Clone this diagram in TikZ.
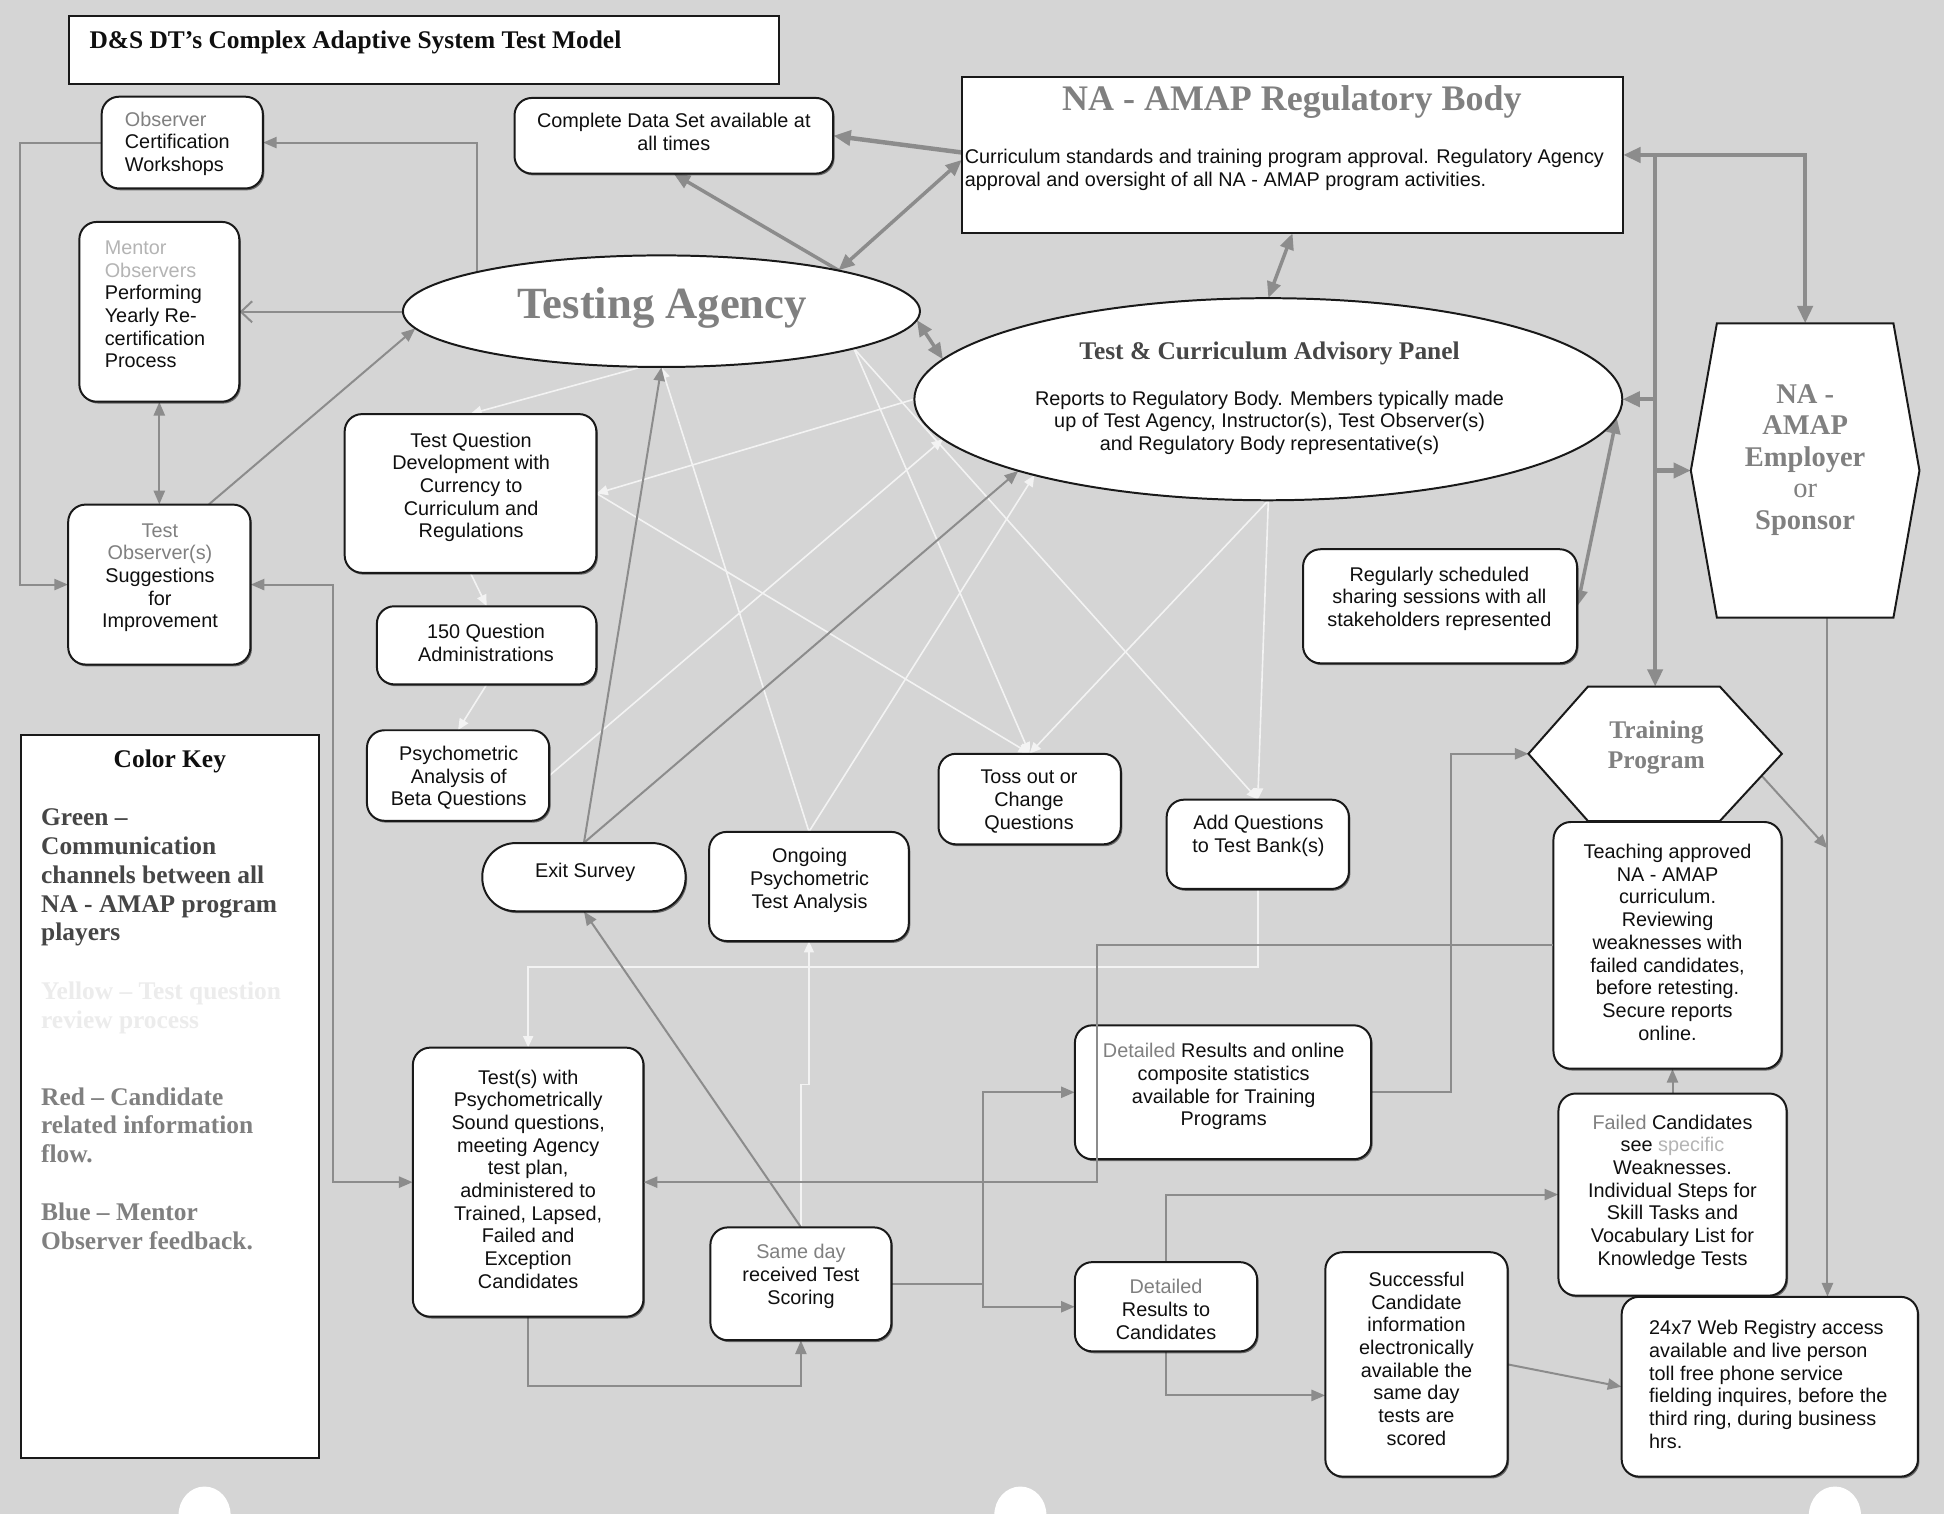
\documentclass[tikz,border=0pt]{standalone}
\usepackage{fontspec}
\setmainfont{Liberation Serif}
\setsansfont{Liberation Sans}
\usetikzlibrary{arrows.meta,calc,shapes.geometric,shadows}
\definecolor{bg}{RGB}{213,213,213}
\definecolor{conn}{RGB}{140,140,140}
\definecolor{edge}{RGB}{25,25,25}
\definecolor{wl}{RGB}{243,243,243}
\definecolor{gtxt}{RGB}{128,128,128}
\definecolor{ltxt}{RGB}{180,180,180}
\definecolor{dtxt}{RGB}{70,70,70}
\definecolor{ytxt}{RGB}{236,236,236}
\definecolor{btxt}{RGB}{15,15,15}
\begin{document}
\begin{tikzpicture}[x=1pt,y=-1pt,
 rbox/.style={draw=edge, line width=1.6, fill=white, rounded corners=14, inner sep=0,
   drop shadow={shadow xshift=1.2pt,shadow yshift=-1.5pt,fill=black,opacity=0.5}},
 sq/.style={draw=edge, line width=1.6, fill=white, inner sep=0},
 ell/.style={ellipse, draw=edge, line width=1.6, fill=white, inner sep=0},
 hexs/.style={draw=edge, line width=1.6, fill=white},
 ghost/.style={draw=none, inner sep=0},
 tx/.style={inner sep=0, align=center, text=btxt, font=\sffamily\fontsize{16}{18.3}\selectfont},
 txl/.style={tx, align=left},
 keyt/.style={inner sep=0, align=left, anchor=west, font=\rmfamily\bfseries\fontsize{20.5}{23.2}\selectfont},
 gline/.style={draw=conn, line width=1.6, >={Triangle[length=11pt,width=9pt]}},
 gmid/.style={draw=conn, line width=2.8, >={Triangle[length=13pt,width=11pt]}},
 gthick/.style={draw=conn, line width=3.6, >={Triangle[length=14pt,width=12pt]}},
 wline/.style={draw=wl, line width=1.3, >={Triangle[length=9pt,width=8pt]}}
]
\useasboundingbox (0,0) rectangle (1568,1221);
\fill[bg] (0,0) rectangle (1568,1221);
% punch holes
\fill[white] (165,1222) ellipse (21 and 23);
\fill[white] (823,1222) ellipse (21 and 23);
\fill[white] (1480,1222) ellipse (21 and 23);

% ---------- node placement (shapes) ----------
\node[sq, minimum width=572, minimum height=55] (title) at (342,40.5) {};
\node[inner sep=0, anchor=west, text=btxt, font=\rmfamily\bfseries\fontsize{20.5}{24}\selectfont] (titlet) at (72,34) {D\&S DT’s Complex Adaptive System Test Model};

\node[ghost, minimum width=130, minimum height=74] (ocw) at (147,115) {};
\node[ghost, minimum width=257, minimum height=61] (cds) at (543.5,109.5) {};
\node[ghost, minimum width=533, minimum height=126] (reg) at (1042.5,125) {};
\node[ghost, minimum width=129, minimum height=145] (mentor) at (128.5,251.5) {};
\node[ghost, ellipse, minimum width=417, minimum height=90] (ta) at (533.5,251) {};
\node[ghost, ellipse, minimum width=571, minimum height=163] (tcap) at (1023,322) {};
\node[ghost, minimum width=184, minimum height=237] (emp) at (1456,379.5) {};
\node[ghost, minimum width=203, minimum height=128] (tqd) at (379.5,398) {};
\node[ghost, minimum width=147, minimum height=129] (to) at (128.5,471.5) {};
\node[ghost, minimum width=221, minimum height=92] (share) at (1161.5,489) {};
\node[ghost, minimum width=177, minimum height=63] (q150) at (392.5,520.5) {};
\node[ghost, minimum width=147, minimum height=73] (psych) at (369.5,625.5) {};
\node[ghost, minimum width=147, minimum height=73] (toss) at (830.5,644.5) {};
\node[ghost, minimum width=204, minimum height=108] (tp) at (1335,608) {};
\node[ghost, minimum width=147, minimum height=72] (addq) at (1014.5,681) {};
\node[ghost, minimum width=164, minimum height=55] (exit) at (471,707.5) {};
\node[ghost, minimum width=161, minimum height=88] (ongoing) at (652.5,715) {};
\node[ghost, minimum width=184, minimum height=199] (teach) at (1345,762.5) {};
\node[ghost, minimum width=239, minimum height=108] (dro) at (986.5,881) {};
\node[ghost, minimum width=186, minimum height=217] (tests) at (426,953.5) {};
\node[ghost, minimum width=184, minimum height=163] (failed) at (1349,963.5) {};
\node[ghost, minimum width=146, minimum height=91] (sd) at (646,1035.5) {};
\node[ghost, minimum width=147, minimum height=72] (drc) at (940.5,1054) {};
\node[ghost, minimum width=147, minimum height=181] (succ) at (1142.5,1100.5) {};
\node[ghost, minimum width=239, minimum height=145] (web) at (1427.5,1118.5) {};
\node[ghost, minimum width=240, minimum height=583] (key) at (137,884.5) {};

% ---------- white connectors ----------
\draw[wline,->] (ta.250) -- (tqd.north);
\draw[wline,->] (tcap.west) -- (tqd.east);
\draw[wline,->] (tqd.east) -- (toss.north);
\draw[wline,->] (tqd.south) -- (q150.north);
\draw[wline,->] (q150.south) -- (psych.north);
\draw[wline,->] (psych.east) -- (tcap.187);
\draw[wline,->] (ongoing.north) -- (ta.south);
\draw[wline,->] (ta.-11) -- (toss.north);
\draw[wline,->] (ta.-11) -- (addq.north);
\draw[wline,->] (ongoing.north) -- (tcap.198);
\draw[wline,->] (tcap.south) -- (toss.north);
\draw[wline,->] (tcap.south) -- (addq.north);
\draw[wline,->] (addq.south) -- ++(0,63) -| (tests.north);
\draw[wline,->] (sd.north) -- ++(0,-115) -| (ongoing.south);

% ---------- gray connectors ----------
\draw[gline,->] (ocw.west) -- ++(-66,0) |- (to.west);
\draw[gline,->] (ta.168.5) |- (ocw.east);
\draw[gline,-{Straight Barb[length=9pt,width=17pt]}] (ta.west |- mentor.east) -- (mentor.east);
\draw[gline,<->] (mentor.south) -- (to.north);
\draw[gline,->] ($(to.north)+(40,0)$) -- (ta.184);
\draw[gline,<->] (to.east) -- ++(66,0) |- (tests.west);

\draw[gthick,->] ($(reg.west)+(0,-2)$) -- (cds.east);
\draw[gmid,<->] (ta.13) -- ($(reg.west)+(0,4)$);
\draw[gmid,->] (ta.13) -- (cds.south);
\draw[gmid,<->] (reg.south) -- (tcap.north);
\draw[gmid,<->] (ta.-2) -- (tcap.173);

\draw[gthick,<->] (reg.east) -| (emp.north);
\draw[gthick,->] (reg.east -| tp.north) -- (tp.north);
\draw[gthick,->] (tcap.east -| tp.north) -- (tcap.east);
\draw[gthick,->] (emp.west -| tp.north) -- (emp.west);
\draw[gmid,<->] (share.east) -- (tcap.-3);
\coordinate (ea) at ($(emp.south)+(18,0)$);
\draw[gline,->] (ea) -- (ea |- web.north);
\draw[gline,->] ($(tp.east)+(-16,18)$) -- ($(ea)+(0,186)$);

\draw[gline,->] (exit.north) -- (ta.south);
\draw[gline,->] (exit.north) -- (tcap.196);
\draw[gline,->] (sd.north) -- (exit.south);
\draw[gline,->] (tests.south) -- ++(0,56) -| (sd.south);
\coordinate (sj) at ($(sd.east)+(74,0)$);
\draw[gline] (sd.east) -- (sj);
\draw[gline,->] (sj) |- (dro.west);
\draw[gline,->] (sj) |- (drc.west);
\draw[gline,->] (dro.east) -- ++(64,0) |- (tp.west);
\draw[gline,->] (drc.north) |- (failed.west);
\draw[gline,->] (drc.south) |- ($(succ.west)+(0,25)$);
\draw[gline,->] (succ.east) -- (web.west);
\draw[gline,->] (failed.north) -- (failed.north |- teach.south);

% ---------- shapes ----------
\node[rbox, minimum width=130, minimum height=74] at (ocw) {};
\node[txl] (ocwt) at (143,116) {\textcolor{gtxt}{Observer}\\Certification\\Workshops};

\node[rbox, minimum width=257, minimum height=61] at (cds) {};
\node[tx] (cdst) at (543.5,106.5) {Complete Data Set available at\\all times};

\node[sq, minimum width=533, minimum height=126] at (reg) {};
\node[inner sep=0, text=gtxt, font=\rmfamily\bfseries\fontsize{29}{32}\selectfont] (regt) at (1042,82) {NA - AMAP Regulatory Body};
\node[txl, anchor=west] (regb) at (778,137) {Curriculum standards and training program approval. Regulatory Agency\\approval and oversight of all NA - AMAP program activities.};

\node[rbox, minimum width=129, minimum height=145] at (mentor) {};
\node[txl] (mentort) at (125,245.5) {\textcolor{ltxt}{Mentor}\\\textcolor{ltxt}{Observers}\\Performing\\Yearly Re-\\certification\\Process};

\node[ell, minimum width=417, minimum height=90] at (ta) {};
\node[inner sep=0, text=gtxt, font=\rmfamily\bfseries\fontsize{36}{40}\selectfont] (tat) at (534,248) {Testing Agency};

\node[ell, minimum width=571, minimum height=163] at (tcap) {};
\node[inner sep=0, text=dtxt, font=\rmfamily\bfseries\fontsize{20.5}{24}\selectfont] (tcapt) at (1024,285) {Test \& Curriculum Advisory Panel};
\node[tx] (tcapb) at (1024,341) {Reports to Regulatory Body. Members typically made\\up of Test Agency, Instructor(s), Test Observer(s)\\and Regulatory Body representative(s)};

\draw[hexs] ($(emp.north west)+(21,0)$) -- ($(emp.north east)+(-21,0)$) -- (emp.east) -- ($(emp.south east)+(-21,0)$) -- ($(emp.south west)+(21,0)$) -- (emp.west) -- cycle;
\node[inner sep=0, align=center, text=gtxt, font=\rmfamily\bfseries\fontsize{23}{25.5}\selectfont] (empt) at (1456,371) {NA -\\AMAP\\Employer\\\textmd{or}\\Sponsor};

\node[rbox, minimum width=203, minimum height=128] at (tqd) {};
\node[tx] (tqdt) at (380,393) {Test Question\\Development with\\Currency to\\Curriculum and\\Regulations};

\node[rbox, minimum width=147, minimum height=129] at (to) {};
\node[tx] (tot) at (129,466) {\textcolor{gtxt}{Test}\\\textcolor{gtxt}{Observer(s)}\\Suggestions\\for\\Improvement};

\node[rbox, minimum width=221, minimum height=92] at (share) {};
\node[tx] (sharet) at (1161,483) {Regularly scheduled\\sharing sessions with all\\stakeholders represented};

\node[rbox, minimum width=177, minimum height=63] at (q150) {};
\node[tx] (q150t) at (392,518.5) {150 Question\\Administrations};

\node[sq, minimum width=240, minimum height=583] at (key) {};
\node[inner sep=0, text=btxt, font=\rmfamily\bfseries\fontsize{20.5}{24}\selectfont] (keyh) at (137,614) {Color Key};
\node[keyt, text=dtxt] (kg) at (33,708) {Green --\\Communication\\channels between all\\NA - AMAP program\\players};
\node[keyt, text=ytxt] (ky) at (33,813) {Yellow -- Test question\\review process};
\node[keyt, text=gtxt] (kr) at (33,907.5) {Red -- Candidate\\related information\\flow.};
\node[keyt, text=gtxt] (kb) at (33,989) {Blue -- Mentor\\Observer feedback.};

\node[rbox, minimum width=147, minimum height=73] at (psych) {};
\node[tx] (psycht) at (370,627.5) {Psychometric\\Analysis of\\Beta Questions};

\node[rbox, minimum width=147, minimum height=73] at (toss) {};
\node[tx] (tosst) at (830,646.5) {Toss out or\\Change\\Questions};

\draw[hexs] ($(tp.north west)+(48,0)$) -- ($(tp.north east)+(-50,0)$) -- (tp.east) -- ($(tp.south east)+(-50,0)$) -- ($(tp.south west)+(48,0)$) -- (tp.west) -- cycle;
\node[inner sep=0, align=center, text=gtxt, font=\rmfamily\bfseries\fontsize{20.5}{24}\selectfont] (tpt) at (1336,603) {Training\\Program};

\node[rbox, minimum width=147, minimum height=72] at (addq) {};
\node[tx] (addqt) at (1015,674) {Add Questions\\to Test Bank(s)};

\node[rbox, rounded corners=27, minimum width=164, minimum height=55] at (exit) {};
\node[tx] (exitt) at (472,704) {Exit Survey};

\node[rbox, minimum width=161, minimum height=88] at (ongoing) {};
\node[tx] (ongoingt) at (653,710) {Ongoing\\Psychometric\\Test Analysis};

\node[rbox, minimum width=184, minimum height=199] at (teach) {};
\node[tx] (teacht) at (1345,760) {Teaching approved\\NA - AMAP\\curriculum.\\Reviewing\\weaknesses with\\failed candidates,\\before retesting.\\Secure reports\\online.};

\node[rbox, minimum width=239, minimum height=108] at (dro) {};
\node[tx] (drot) at (987,876.5) {\textcolor{gtxt}{Detailed} Results and online\\composite statistics\\available for Training\\Programs};

\node[rbox, minimum width=186, minimum height=217] at (tests) {};
\node[tx] (testst) at (426,951) {Test(s) with\\Psychometrically\\Sound questions,\\meeting Agency\\test plan,\\administered to\\Trained, Lapsed,\\Failed and\\Exception\\Candidates};

\node[rbox, minimum width=184, minimum height=163] at (failed) {};
\node[tx] (failedt) at (1349,961.5) {\textcolor{gtxt}{Failed} Candidates\\see \textcolor{ltxt}{specific}\\Weaknesses.\\Individual Steps for\\Skill Tasks and\\Vocabulary List for\\Knowledge Tests};

\node[rbox, minimum width=146, minimum height=91] at (sd) {};
\node[tx] (sdt) at (646,1029.5) {\textcolor{gtxt}{Same day}\\received Test\\Scoring};

\node[rbox, minimum width=147, minimum height=72] at (drc) {};
\node[tx] (drct) at (940.5,1056) {\textcolor{gtxt}{Detailed}\\Results to\\Candidates};

\node[rbox, minimum width=147, minimum height=181] at (succ) {};
\node[tx] (succt) at (1142.5,1096) {Successful\\Candidate\\information\\electronically\\available the\\same day\\tests are\\scored};

\node[rbox, minimum width=239, minimum height=145] at (web) {};
\node[txl, anchor=west] (webt) at (1330,1116.5) {24x7 Web Registry access\\available and live person\\toll free phone service\\fielding inquires, before the\\third ring, during business\\hrs.};

% connector drawn over the results box
\draw[gline,->] (teach.west) -- ++(-368,0) |- (tests.east);
\end{tikzpicture}
\end{document}
